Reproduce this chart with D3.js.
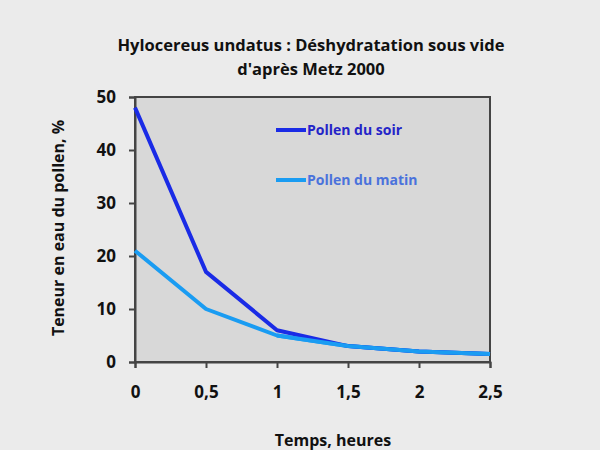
<!DOCTYPE html>
<html><head><meta charset="utf-8">
<script src="https://cdn.jsdelivr.net/npm/d3@7"></script>
<style>body{margin:0;background:#ebebeb;}svg{display:block;font-family:"Open Sans",sans-serif;font-weight:bold;}</style>
</head><body>
<script>
const hours = [0, 0.5, 1, 1.5, 2, 2.5];
const soir = [48, 17, 6, 3, 2, 1.5];
const matin = [21, 10, 5, 3, 2, 1.5];
const xTicks = [0, 0.5, 1, 1.5, 2, 2.5];
const yTicks = [0, 10, 20, 30, 40, 50];
const seriesNames = ["Pollen du soir", "Pollen du matin"];

const W = 600, H = 450;
const m = {l: 135, r: 110, t: 97, b: 88};
const FONT = "'Open Sans', sans-serif";
const svg = d3.select("body").append("svg").attr("width", W).attr("height", H);
svg.append("rect").attr("width", W).attr("height", H).attr("fill", "#ebebeb");

const x = d3.scaleLinear().domain([0, 2.5]).range([m.l, W - m.r]);
const y = d3.scaleLinear().domain([0, 50]).range([H - m.b, m.t]);

svg.append("rect").attr("x", x(0)).attr("y", y(50)).attr("width", x(2.5) - x(0)).attr("height", y(0) - y(50))
  .attr("fill", "#d8d8d8").attr("stroke", "#444").attr("stroke-width", 2);

const fmt = d => String(d).replace(".", ",");
const xa = svg.append("g").attr("transform", `translate(0,${y(0)})`)
  .call(d3.axisBottom(x).tickValues(xTicks).tickFormat(fmt).tickSize(6).tickPadding(18));
const ya = svg.append("g").attr("transform", `translate(${x(0)},0)`)
  .call(d3.axisLeft(y).tickValues(yTicks).tickSize(6).tickPadding(13));
[xa, ya].forEach(a => {
  a.select(".domain").attr("stroke", "#444").attr("stroke-width", 2);
  a.selectAll(".tick line").attr("stroke", "#444").attr("stroke-width", 2);
  a.selectAll("text").attr("font-family", FONT).attr("font-weight", "bold").attr("font-size", 17).attr("fill", "#111");
});

const line = d3.line().x((d, i) => x(hours[i])).y(d => y(d));
const colors = ["#1a2be6", "#1a9cf2"];
svg.append("path").datum(matin).attr("d", line).attr("fill", "none")
  .attr("stroke", colors[1]).attr("stroke-width", 4).attr("stroke-linejoin", "round");
svg.append("path").datum(soir).attr("d", line).attr("fill", "none")
  .attr("stroke", colors[0]).attr("stroke-width", 4).attr("stroke-linejoin", "round");
// matin tail drawn on top where the two series overlap
svg.append("path").datum(matin.slice(2)).attr("d", d3.line().x((d, i) => x(hours[i + 2])).y(d => y(d)))
  .attr("fill", "none").attr("stroke", colors[1]).attr("stroke-width", 4);

// legend
const legTextCol = ["#2424c8", "#4a72dc"];
[130, 180].forEach((ly, i) => {
  svg.append("line").attr("x1", 276).attr("x2", 306).attr("y1", ly).attr("y2", ly)
    .attr("stroke", colors[i]).attr("stroke-width", 4);
  svg.append("text").attr("x", 307).attr("y", ly + 5).attr("font-size", 14).attr("fill", legTextCol[i]).text(seriesNames[i]);
});

// titles
svg.append("text").attr("x", 311).attr("y", 51).attr("text-anchor", "middle").attr("font-size", 16.5).attr("fill", "#111")
  .text("Hylocereus undatus : Déshydratation sous vide");
svg.append("text").attr("x", 311).attr("y", 75).attr("text-anchor", "middle").attr("font-size", 16.5).attr("fill", "#111")
  .text("d'après Metz 2000");
svg.append("text").attr("x", 333).attr("y", 446).attr("text-anchor", "middle").attr("font-size", 16).attr("fill", "#111")
  .text("Temps, heures");
svg.append("text").attr("transform", `translate(64,228) rotate(-90)`).attr("text-anchor", "middle").attr("font-size", 16).attr("fill", "#111")
  .text("Teneur en eau du pollen, %");
</script>
</body></html>
